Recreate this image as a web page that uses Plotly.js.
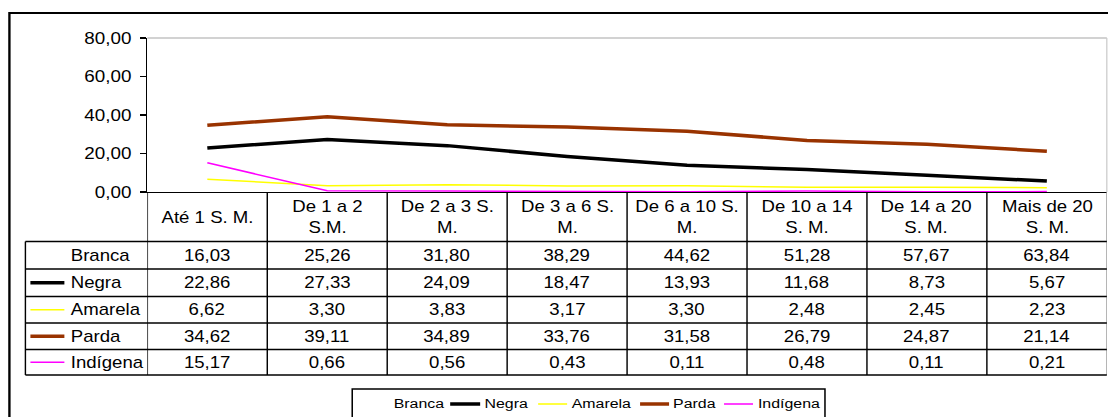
<!DOCTYPE html>
<html>
<head>
<meta charset="utf-8">
<script src="https://cdn.plot.ly/plotly-3.0.1.min.js"></script>
<style>
  html, body { margin: 0; padding: 0; background: #fff; overflow: hidden; }
  #chart { transform-origin: 0 0; }
</style>
</head>
<body>
<div id="chart"></div>
<script>
// ---- data ----
const categories = ["Até 1 S. M.", "De 1 a 2<br>S.M.", "De 2 a 3 S.<br>M.", "De 3 a 6 S.<br>M.",
                    "De 6 a 10 S.<br>M.", "De 10 a 14<br>S. M.", "De 14 a 20<br>S. M.", "Mais de 20<br>S. M."];
const seriesNames = ["Branca", "Negra", "Amarela", "Parda", "Indígena"];
const branca   = [16.03, 25.26, 31.80, 38.29, 44.62, 51.28, 57.67, 63.84];
const negra    = [22.86, 27.33, 24.09, 18.47, 13.93, 11.68, 8.73, 5.67];
const amarela  = [6.62, 3.30, 3.83, 3.17, 3.30, 2.48, 2.45, 2.23];
const parda    = [34.62, 39.11, 34.89, 33.76, 31.58, 26.79, 24.87, 21.14];
const indigena = [15.17, 0.66, 0.56, 0.43, 0.11, 0.48, 0.11, 0.21];
const yTicks   = [0, 20, 40, 60, 80];

// ---- styles ----
const seriesValues = [branca, negra, amarela, parda, indigena];
const seriesColors = ["#ffffff", "#000000", "#ffff00", "#993300", "#ff00ff"];
const seriesWidths = [2, 3.5, 1.5, 3.5, 1.5];

// the reference text is horizontally stretched; render narrower and stretch
const W = 1108, H = 417;
const SX = 1108 / 940;
const WI = W / SX;
const L = 147, R = 1107, T = 38, B = 192;
const X = px => (px - L) / (R - L);
const P = py => (B - py) / (B - T);
const FONT = "Liberation Sans, Arial, sans-serif";
const FS = 15.8;
const FS_LEG = 13.5;
const LW = 1.3;

const chartDiv = document.getElementById("chart");
chartDiv.style.width = WI + "px";
chartDiv.style.height = H + "px";
chartDiv.style.transform = "scaleX(" + SX + ")";

const xIdx = categories.map((_, i) => i);

const traces = seriesNames.map((name, s) => ({
  type: "scatter", mode: "lines", name: name,
  x: xIdx, y: seriesValues[s],
  line: { color: seriesColors[s], width: seriesWidths[s] },
  hoverinfo: "skip", showlegend: false
}));

const shapes = [];
const annotations = [];
const line = (x0, y0, x1, y1, color, width, xref) => shapes.push({
  type: "line", xref: xref || "paper", yref: "paper", x0, y0, x1, y1,
  line: { color: color, width: width }, layer: "above"
});

// outer frame (extends past the image edges)
shapes.push({ type: "rect", xref: "paper", yref: "paper",
  x0: X(9), x1: X(1130), y0: P(13), y1: P(440),
  line: { color: "#000", width: 2 }, layer: "below" });

// plot area border top and right (gray)
line(X(L), P(T), X(R), P(T), "#a6a6a6", 1.2);
line(X(R), P(T), X(R), P(B), "#c8c8c8", 1.0);

// table geometry
const rowBounds = [241.5, 269, 296.5, 323, 349.5, 375];
const tableLeft = 25;

// vertical grid lines
for (let i = 0; i <= categories.length; i++) {
  const xv = i - 0.5;
  shapes.push({ type: "line", xref: "x", yref: "paper", x0: xv, x1: xv, y0: P(B), y1: P(rowBounds[5]),
    line: { color: i === categories.length ? "#9a9a9a" : "#000", width: LW / SX * 1.1 }, layer: "above" });
}
line(X(tableLeft), P(rowBounds[0]), X(tableLeft), P(rowBounds[5]), "#000", LW / SX * 1.1);
// horizontal grid lines
rowBounds.forEach(yb => line(X(tableLeft), P(yb), X(R), P(yb), "#000", LW));

// header labels
categories.forEach((c, i) => annotations.push({
  xref: "x", yref: "paper", x: i, y: P((B + rowBounds[0]) / 2 + 0.5),
  text: c, showarrow: false, xanchor: "center", yanchor: "middle",
  font: { family: FONT, size: FS, color: "#000" }
}));

const fmt = v => v.toFixed(2).replace(".", ",");

// rows
seriesNames.forEach((name, s) => {
  const yc = (rowBounds[s] + rowBounds[s + 1]) / 2;
  annotations.push({
    xref: "paper", yref: "paper", x: X(68), y: P(yc), text: name, showarrow: false,
    xanchor: "left", yanchor: "middle", font: { family: FONT, size: FS, color: "#000" }
  });
  line(X(30), P(yc), X(64), P(yc), seriesColors[s], seriesWidths[s]);
  seriesValues[s].forEach((v, i) => annotations.push({
    xref: "x", yref: "paper", x: i, y: P(yc), text: fmt(v), showarrow: false,
    xanchor: "center", yanchor: "middle", font: { family: FONT, size: FS, color: "#000" }
  }));
});

// legend
shapes.push({ type: "rect", xref: "paper", yref: "paper",
  x0: X(352), x1: X(825), y0: P(389), y1: P(440),
  line: { color: "#000", width: LW }, fillcolor: "#fff", layer: "above" });
const legendKeys = [[358, 386, 392], [450, 480, 483], [538, 567, 570], [640, 669, 672], [724, 753, 756]];
const legY = 404;
seriesNames.forEach((name, s) => {
  const k = legendKeys[s];
  line(X(k[0]), P(legY), X(k[1]), P(legY), seriesColors[s], seriesWidths[s]);
  annotations.push({
    xref: "paper", yref: "paper", x: X(k[2] - 1), y: P(legY), text: name, showarrow: false,
    xanchor: "left", yanchor: "middle", font: { family: FONT, size: FS_LEG, color: "#000" }
  });
});

const layout = {
  width: WI, height: H,
  margin: { l: L / SX, r: (W - R) / SX, t: T, b: H - B, pad: 0 },
  paper_bgcolor: "#fff", plot_bgcolor: "#fff",
  font: { family: FONT, size: FS, color: "#000" },
  separators: ",.",
  showlegend: false,
  xaxis: {
    type: "linear", range: [-0.5, categories.length - 0.5],
    showticklabels: false, ticks: "", showgrid: false, zeroline: false,
    showline: true, linecolor: "#000", linewidth: LW, fixedrange: true
  },
  yaxis: {
    range: [0, 80], tickvals: yTicks, tickformat: ".2f",
    ticks: "outside", ticklen: 6 / SX, tickcolor: "#000", tickwidth: LW,
    ticklabelstandoff: 4,
    showline: true, linecolor: "#000", linewidth: LW / SX * 1.1,
    showgrid: false, zeroline: false, fixedrange: true,
    tickfont: { family: FONT, size: 16, color: "#000" }
  },
  shapes: shapes,
  annotations: annotations
};

Plotly.newPlot("chart", traces, layout, { staticPlot: true, displayModeBar: false });
</script>
</body>
</html>
